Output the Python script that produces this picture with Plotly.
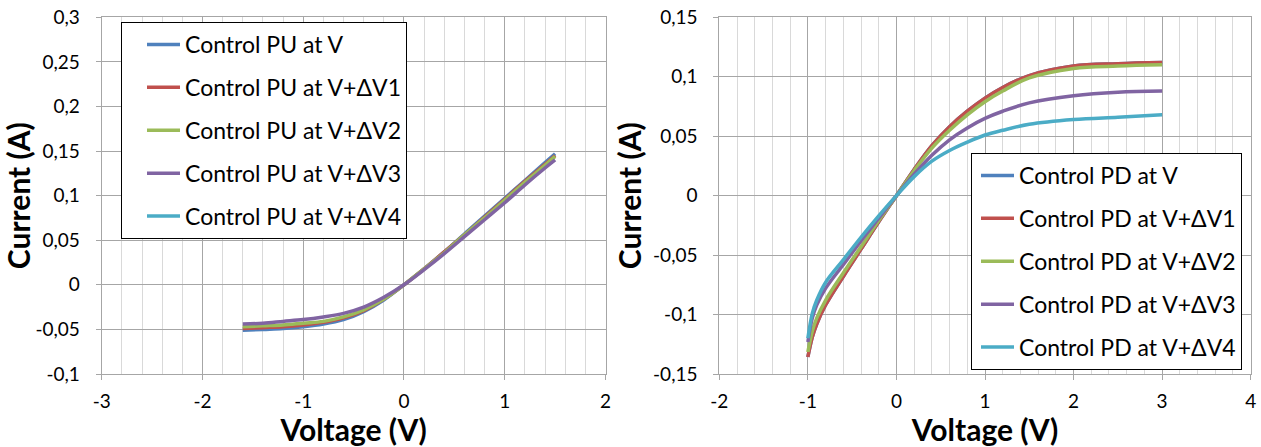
import plotly.graph_objects as go

# ---------------- data ----------------
pu_v = [-1.6, -1.4, -1.2, -1.0, -0.8, -0.6, -0.4, -0.2, 0.0, 0.2, 0.4, 0.6, 0.8, 1.0, 1.2, 1.4, 1.5]
pu_base = [-0.051, -0.050, -0.049, -0.047, -0.044, -0.039, -0.030, -0.017, 0.0, 0.018, 0.037, 0.057, 0.077, 0.097, 0.117, 0.137, 0.147]
pu_dv1 = [-0.049, -0.048, -0.047, -0.045, -0.042, -0.037, -0.029, -0.016, 0.0, 0.018, 0.037, 0.056, 0.076, 0.096, 0.116, 0.135, 0.145]
pu_dv2 = [-0.047, -0.046, -0.045, -0.043, -0.041, -0.036, -0.028, -0.016, 0.0, 0.018, 0.036, 0.056, 0.075, 0.095, 0.115, 0.134, 0.144]
pu_dv3 = [-0.044, -0.043, -0.041, -0.039, -0.036, -0.032, -0.025, -0.014, 0.0, 0.017, 0.035, 0.054, 0.073, 0.092, 0.112, 0.131, 0.140]
pu_dv4 = [None] * len(pu_v)  # listed in legend, no visible curve in the chart

pd_v = [-1.0, -0.95, -0.9, -0.8, -0.6, -0.4, -0.2, 0.0, 0.2, 0.4, 0.6, 0.8, 1.0, 1.2, 1.5, 2.0, 2.5, 3.0]
pd_base = [-0.1357, -0.119, -0.108, -0.092, -0.068, -0.045, -0.022, 0.0, 0.022, 0.042, 0.058, 0.071, 0.082, 0.091, 0.101, 0.109, 0.111, 0.112]
pd_dv1 = [-0.1357, -0.119, -0.108, -0.092, -0.068, -0.045, -0.022, 0.0, 0.022, 0.042, 0.058, 0.071, 0.082, 0.091, 0.101, 0.109, 0.111, 0.112]
pd_dv2 = [-0.1315, -0.114, -0.103, -0.088, -0.065, -0.043, -0.021, 0.0, 0.021, 0.040, 0.055, 0.068, 0.079, 0.088, 0.099, 0.107, 0.109, 0.110]
pd_dv3 = [-0.123, -0.103, -0.092, -0.078, -0.058, -0.038, -0.019, 0.0, 0.018, 0.034, 0.047, 0.057, 0.065, 0.071, 0.078, 0.084, 0.087, 0.088]
pd_dv4 = [-0.120, -0.099, -0.088, -0.073, -0.054, -0.035, -0.017, 0.0, 0.016, 0.029, 0.038, 0.045, 0.051, 0.055, 0.060, 0.064, 0.066, 0.068]

pu_names = ["Control PU at V", "Control PU at V+ΔV1", "Control PU at V+ΔV2", "Control PU at V+ΔV3", "Control PU at V+ΔV4"]
pd_names = ["Control PD at V", "Control PD at V+ΔV1", "Control PD at V+ΔV2", "Control PD at V+ΔV3", "Control PD at V+ΔV4"]
colors = ["#4F81BD", "#C0504D", "#9BBB59", "#8064A2", "#4BACC6"]

left_xticks = [-3, -2, -1, 0, 1, 2]
left_xtext = ["-3", "-2", "-1", "0", "1", "2"]
left_yticks = [-0.1, -0.05, 0, 0.05, 0.1, 0.15, 0.2, 0.25, 0.3]
left_ytext = ["-0,1", "-0,05", "0", "0,05", "0,1", "0,15", "0,2", "0,25", "0,3"]
right_xticks = [-2, -1, 0, 1, 2, 3, 4]
right_xtext = ["-2", "-1", "0", "1", "2", "3", "4"]
right_yticks = [-0.15, -0.1, -0.05, 0, 0.05, 0.1, 0.15]
right_ytext = ["-0,15", "-0,1", "-0,05", "0", "0,05", "0,1", "0,15"]

FONT = "Lato"
W, H = 1261, 447


def px(xp):
    return xp / W


def py(yp):
    return 1 - yp / H


fig = go.Figure()

pu_series = [pu_base, pu_dv1, pu_dv2, pu_dv3, pu_dv4]
for name, ys, c in zip(pu_names, pu_series, colors):
    fig.add_trace(go.Scatter(x=pu_v, y=ys, name=name, mode="lines",
                             line=dict(color=c, width=3.5, shape="spline"),
                             legendgroup=name, legend="legend",
                             xaxis="x", yaxis="y"))

pd_series = [pd_base, pd_dv1, pd_dv2, pd_dv3, pd_dv4]
for name, ys, c in zip(pd_names, pd_series, colors):
    fig.add_trace(go.Scatter(x=pd_v, y=ys, name=name, mode="lines",
                             line=dict(color=c, width=3.5, shape="spline"),
                             legendgroup=name, legend="legend2",
                             xaxis="x2", yaxis="y2"))

grid_major = "#A6A6A6"
grid_minor = "#D9D9D9"
tickfont = dict(family=FONT, size=19, color="black")
titlefont = dict(family=FONT, size=30, color="black", weight="bold")


def xaxis(dom, rng, tv, tt, anchor):
    return dict(domain=dom, range=rng, tickvals=tv, ticktext=tt, anchor=anchor,
                showgrid=True, gridcolor=grid_major, gridwidth=1,
                minor=dict(dtick=0.2, showgrid=True, gridcolor=grid_minor, gridwidth=1),
                showline=True, linecolor=grid_major, linewidth=1, mirror=True,
                ticks="outside", ticklen=5, tickcolor=grid_major,
                ticklabelstandoff=5, tickfont=tickfont, zeroline=False,
                ticklabeloverflow="allow", automargin=False,
                title=dict(text="Voltage (V)", font=titlefont, standoff=3))


def yaxis(dom, rng, tv, tt, anchor):
    return dict(domain=dom, range=rng, tickvals=tv, ticktext=tt, anchor=anchor,
                showgrid=True, gridcolor=grid_major, gridwidth=1,
                showline=True, linecolor=grid_major, linewidth=1, mirror=True,
                ticks="outside", ticklen=5, tickcolor=grid_major,
                ticklabelstandoff=12, tickfont=tickfont, zeroline=False,
                ticklabeloverflow="allow", automargin=False,
                title=dict(text="Current (A)", font=titlefont, standoff=2))


ydom = [py(374), py(17.3)]
legfont = dict(family=FONT, size=23, color="black")
leg_common = dict(xanchor="left", yanchor="top", bgcolor="white",
                  bordercolor="black", borderwidth=1, font=legfont,
                  tracegroupgap=10, itemwidth=33)

fig.update_layout(
    width=W, height=H,
    margin=dict(l=0, r=0, t=0, b=0, autoexpand=False),
    paper_bgcolor="white", plot_bgcolor="white",
    xaxis=xaxis([px(101.7), px(605.5)], [-3, 2], left_xticks, left_xtext, "y"),
    yaxis=yaxis(ydom, [-0.1, 0.3], left_yticks, left_ytext, "x"),
    xaxis2=xaxis([px(719.3), px(1250.7)], [-2, 4], right_xticks, right_xtext, "y2"),
    yaxis2=yaxis(ydom, [-0.15, 0.15], right_yticks, right_ytext, "x2"),
    legend=dict(x=px(121), y=py(22), indentation=20, **leg_common),
    legend2=dict(x=px(971), y=py(153), indentation=4, **leg_common),
)

# remove the browser's default 8px body margin so the figure fills the window
fig.write_html("out.html", config={"displayModeBar": False},
               post_script="document.body.style.margin='0';")
